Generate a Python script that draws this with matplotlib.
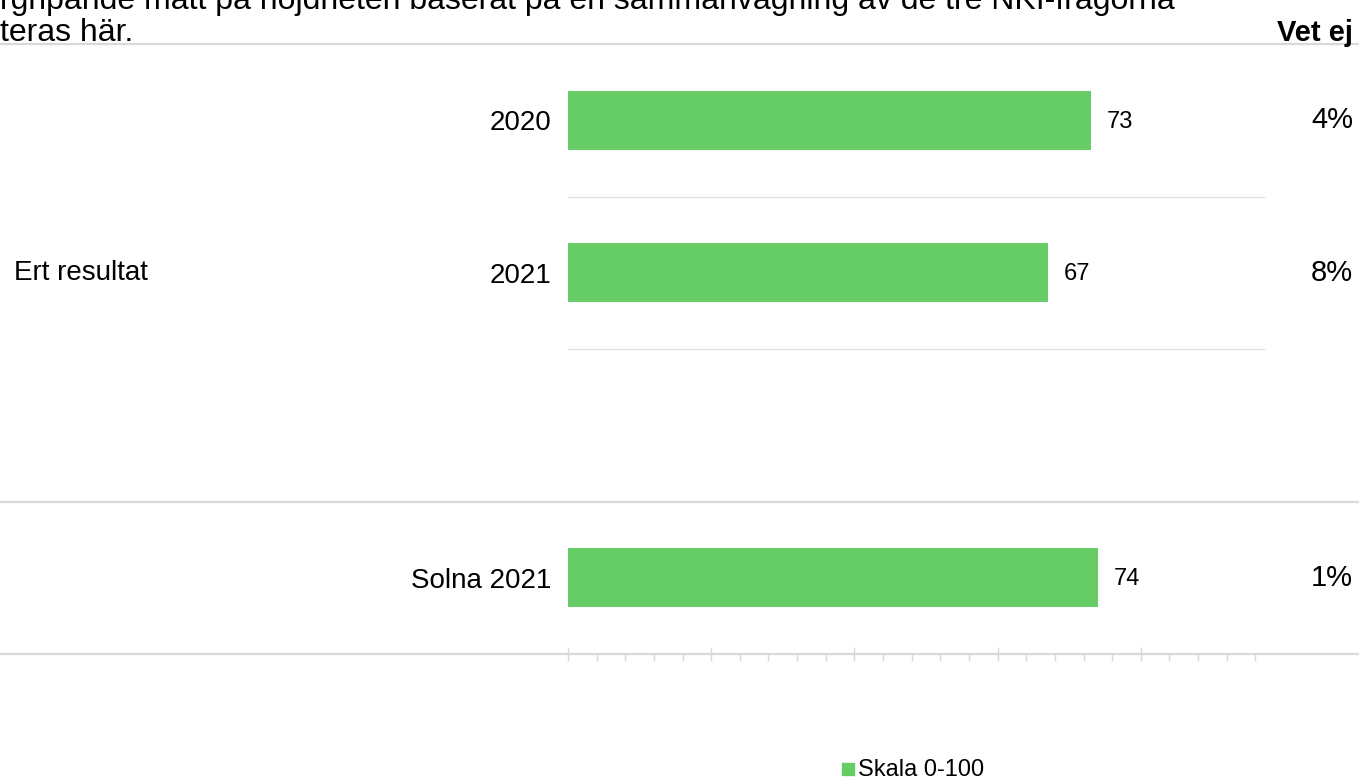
import matplotlib
matplotlib.use("Agg")
from matplotlib import pyplot as plt
from matplotlib import font_manager
import matplotlib.transforms as mtransforms
import numpy as np

# Data
row_labels = ["2020", "2021", "Solna 2021"]
row_pos = [0, 1, 3]
scores = [73, 67, 74]
dont_know = ["4%", "8%", "1%"]
group_label = "Ert resultat"
legend_label = "Skala 0-100"
intro_lines = ["rgripande mått på nöjdheten baserat på en sammanvägning av de tre NKI-frågorna",
               "teras här."]

green = "#66cc66"
grid_grey = "#d9d9d9"

names = {f.name for f in font_manager.fontManager.ttflist}
narrow = "Liberation Sans Narrow" if "Liberation Sans Narrow" in names else "Liberation Sans"
plt.rcParams["font.family"] = ["Liberation Sans", "DejaVu Sans"]

W, H = 1359, 779
fig = plt.figure(figsize=(W / 100, H / 100), dpi=100)

# axes: x 0..100 spans pixels 568..1284, y -0.5..3.5 spans pixels 44..654
x0, x1 = 568, 1284
y_top, y_bot = 44, 654
ax = fig.add_axes([x0 / W, (H - y_bot) / H, (x1 - x0) / W, (y_bot - y_top) / H])
ax.set_xlim(0, 100)
ax.set_ylim(3.5, -0.5)

ax.barh(row_pos, scores, height=0.39, color=green, zorder=3)

for y, v in zip(row_pos, scores):
    ax.text(v + 2.2, y + 0.01, str(v), va="center", ha="left", fontsize=17)

pct_trans = mtransforms.blended_transform_factory(fig.transFigure, ax.transData)
for y, dk in zip(row_pos, dont_know):
    ax.text(1353 / W, y, dk, transform=pct_trans, va="center", ha="right", fontsize=21)
ax.text(14 / W, 1, group_label, transform=pct_trans, va="center", ha="left", fontsize=20)

ax.set_yticks(row_pos)
ax.set_yticklabels(row_labels, fontsize=20)
ax.tick_params(axis="y", length=0, pad=12)

# x axis ticks, no labels
ax.set_xticks(np.arange(0, 81, 20))
ax.set_xticks(np.arange(0, 97, 4), minor=True)
ax.tick_params(axis="x", which="major", direction="inout", length=10, width=1,
               color=grid_grey, labelbottom=False)
ax.tick_params(axis="x", which="minor", direction="out", length=5, width=1,
               color=grid_grey)
for s in ax.spines.values():
    s.set_visible(False)

# separators
lo = -x0 / (x1 - x0)
hi = (W - x0) / (x1 - x0)
for y in [-0.5, 2.5, 3.5]:
    ax.axhline(y, xmin=lo, xmax=hi, color=grid_grey, lw=1.6, clip_on=False, zorder=1)
for y in [0.5, 1.5]:
    ax.axhline(y, xmin=0, xmax=(1264 - x0) / (x1 - x0), color="#e3e3e3", lw=1,
               clip_on=False, zorder=1)

# header texts (first line cut at the top edge, as in the source)
fig.text(0, (H - 9) / H, intro_lines[0], family=narrow, fontsize=23, va="baseline", ha="left")
fig.text(0, (H - 41) / H, intro_lines[1], family=narrow, fontsize=23, va="baseline", ha="left")
fig.text(1353 / W, (H - 41) / H, "Vet ej", family=narrow, fontsize=21, fontweight="bold",
         va="baseline", ha="right")

# legend
fig.patches.append(plt.Rectangle((842 / W, (H - 775) / H), 12 / W, 12 / H,
                                 transform=fig.transFigure, color=green))
fig.text(858 / W, (H - 770) / H, legend_label, fontsize=17, va="center", ha="left")

fig.savefig("out.png", dpi=100)
